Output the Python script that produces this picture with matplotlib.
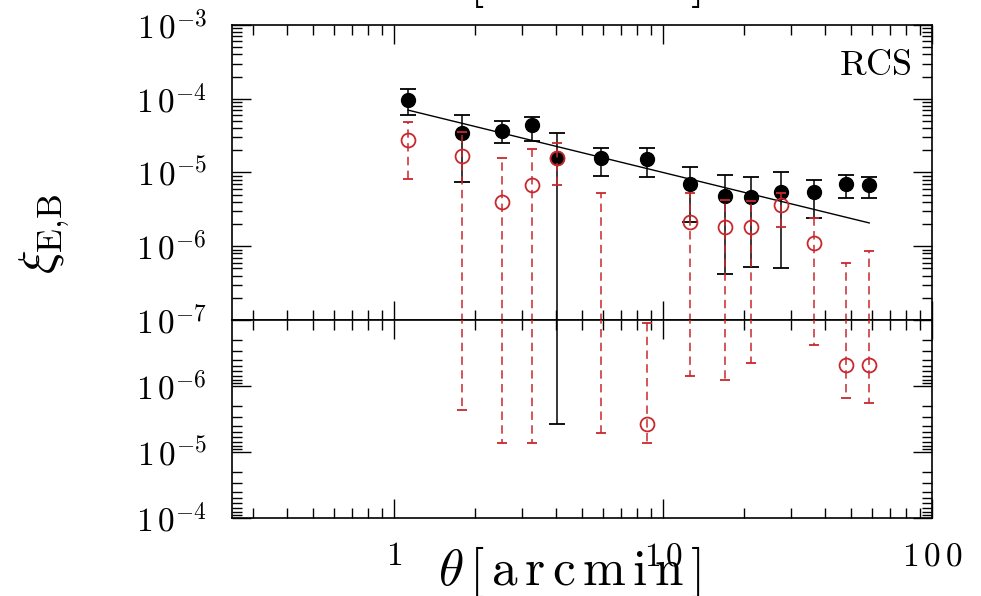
import numpy as np
import matplotlib
matplotlib.use("Agg")
import matplotlib.pyplot as plt
from matplotlib.ticker import LogLocator, FixedLocator, FuncFormatter, NullFormatter

# angular bins [arcmin]
theta = [1.13, 1.79, 2.53, 3.27, 4.05, 5.89, 8.73, 12.6, 16.98, 21.2, 27.4, 36.5, 48.0, 58.4]

# E-mode (black, filled) value and error-bar ends
xiE    = [9.6e-5, 3.4e-5, 3.66e-5, 4.4e-5, 1.57e-5, 1.57e-5, 1.53e-5, 7.0e-6, 4.8e-6, 4.7e-6, 5.45e-6, 5.45e-6, 7.0e-6, 6.8e-6]
xiE_hi = [1.36e-4, 6.0e-5, 5.0e-5, 5.66e-5, 3.4e-5, 2.15e-5, 2.15e-5, 1.19e-5, 9.25e-6, 8.7e-6, 1.0e-5, 7.9e-6, 9.25e-6, 8.7e-6]
xiE_lo = [6.0e-5, 7.4e-6, 2.51e-5, 2.67e-5, -3.8e-6, 8.97e-6, 8.7e-6, 2.1e-6, 4.2e-7, 5.25e-7, 5.1e-7, 2.4e-6, 4.5e-6, 4.5e-6]

# B-mode (red, open) value and error-bar ends
xiB    = [2.76e-5, 1.67e-5, 4.0e-6, 6.76e-6, 1.57e-5, 2.5e-8, -3.77e-6, 2.13e-6, 1.82e-6, 1.82e-6, 3.62e-6, 1.1e-6, -4.8e-7, -4.8e-7]
xiB_hi = [4.84e-5, 3.5e-5, 1.57e-5, 2.08e-5, 2.5e-5, 5.2e-6, -1.1e-7, 5.2e-6, 4.24e-6, 4.1e-6, 5.3e-6, 2.4e-6, 5.9e-7, 8.6e-7]
xiB_lo = [8.2e-6, -2.3e-6, -7.3e-6, -7.3e-6, 6.76e-6, -5.15e-6, -7.3e-6, -7.1e-7, -8.1e-7, -4.5e-7, 1.83e-6, -2.4e-7, -1.52e-6, -1.82e-6]

# model line end points
fit_theta = [1.13, 58.4]
fit_xi = [7.0e-5, 2.07e-6]

survey = "RCS"

plt.rcParams["mathtext.fontset"] = "cm"
plt.rcParams["font.family"] = "DejaVu Serif"

RED = "#c8282d"
TINY = 1e-12
XLABEL = r"$\theta\,[\,\mathrm{a\,r\,c\,m\,i\,n}\,]$"


def draw_series(ax_pos, ax_neg, x, val, hi, lo, color, ls, capw, mkw, z):
    # positive part goes to the upper panel, negative part (as |y|) to the lower one
    for xi, h, l in zip(x, hi, lo):
        if h > 0:
            ax_pos.vlines(xi, max(l, TINY), h, colors=color, linestyles=ls, lw=1.1, zorder=z)
            ax_pos.plot(xi, h, marker="_", ms=capw, mew=1.3, color=color, zorder=z)
            if l > 0:
                ax_pos.plot(xi, l, marker="_", ms=capw, mew=1.3, color=color, zorder=z)
        if l < 0:
            ax_neg.vlines(xi, max(-h, TINY), -l, colors=color, linestyles=ls, lw=1.1, zorder=z)
            ax_neg.plot(xi, -l, marker="_", ms=capw, mew=1.3, color=color, zorder=z)
            if h < 0:
                ax_neg.plot(xi, -h, marker="_", ms=capw, mew=1.3, color=color, zorder=z)
    x = np.asarray(x)
    val = np.asarray(val)
    pos = val > 0
    ax_pos.plot(x[pos], val[pos], ls="none", zorder=z + 1, **mkw)
    ax_neg.plot(x[~pos], -val[~pos], ls="none", zorder=z + 1, **mkw)


fig = plt.figure(figsize=(9.81, 5.96), dpi=100)
ax1 = fig.add_axes([0.2365, 0.4631, 0.7136, 0.4950])
ax2 = fig.add_axes([0.2365, 0.1309, 0.7136, 0.3322])

black_mk = dict(marker="o", ms=10, mfc="black", mec="black")
red_mk = dict(marker="o", ms=10, mfc="none", mec=RED, mew=1.3)

draw_series(ax1, ax2, theta, xiE, xiE_hi, xiE_lo, "black", "solid", 12, black_mk, 3)
draw_series(ax1, ax2, theta, xiB, xiB_hi, xiB_lo, RED, (0, (5.5, 3.5)), 7.5, red_mk, 5)
ax1.plot(fit_theta, fit_xi, color="black", lw=1.0, zorder=2)

ax1.set_ylim(1e-7, 1e-3)
ax2.set_ylim(1e-4, 1e-7)


def ylab(v, pos):
    e = int(round(np.log10(v)))
    return r"$1\,0^{%d}$" % e


def ylab_low(v, pos):
    e = int(round(np.log10(v)))
    if e == -7:
        return ""
    return r"$1\,0^{%d}$" % e


def xlab(v, pos):
    s = "%d" % round(v)
    return "$" + r"\,".join(s) + "$"


for ax in (ax1, ax2):
    ax.set_xscale("log")
    ax.set_yscale("log")
    ax.set_xlim(0.25, 100)
    ax.xaxis.set_major_locator(FixedLocator([1, 10, 100]))
    ax.xaxis.set_minor_locator(LogLocator(base=10, subs=np.arange(2, 10), numticks=20))
    ax.yaxis.set_major_locator(LogLocator(base=10, numticks=20))
    ax.yaxis.set_minor_locator(LogLocator(base=10, subs=np.arange(2, 10), numticks=20))
    ax.xaxis.set_minor_formatter(NullFormatter())
    ax.yaxis.set_minor_formatter(NullFormatter())
    ax.tick_params(which="both", direction="in", top=True, right=True, width=1.0,
                   labelsize=24, colors="black")
    ax.tick_params(which="major", length=14)
    ax.tick_params(which="minor", length=7.5)
    ax.tick_params(axis="y", which="major", pad=18)
    ax.tick_params(axis="x", which="major", pad=16)
    for s in ax.spines.values():
        s.set_linewidth(1.2)

ax1.xaxis.set_major_formatter(NullFormatter())
ax1.yaxis.set_major_formatter(FuncFormatter(ylab))
ax2.yaxis.set_major_formatter(FuncFormatter(ylab_low))
ax2.xaxis.set_major_formatter(FuncFormatter(xlab))

ax1.text(0.971, 0.83, r"$\mathrm{%s}$" % survey, transform=ax1.transAxes,
         ha="right", va="baseline", fontsize=26)

fig.text(569 / 981, 1 - 585 / 596, XLABEL, ha="center", va="baseline", fontsize=37)
# label of the panel above, cut by the frame
fig.text(569 / 981, 1.0084, XLABEL, ha="center", va="baseline", fontsize=37)
fig.text(45 / 981, 1 - 234 / 596, r"$\xi_{\mathrm{E{,}B}}$", rotation=90, ha="center", va="center", fontsize=36)

fig.savefig("out.png", dpi=100)
